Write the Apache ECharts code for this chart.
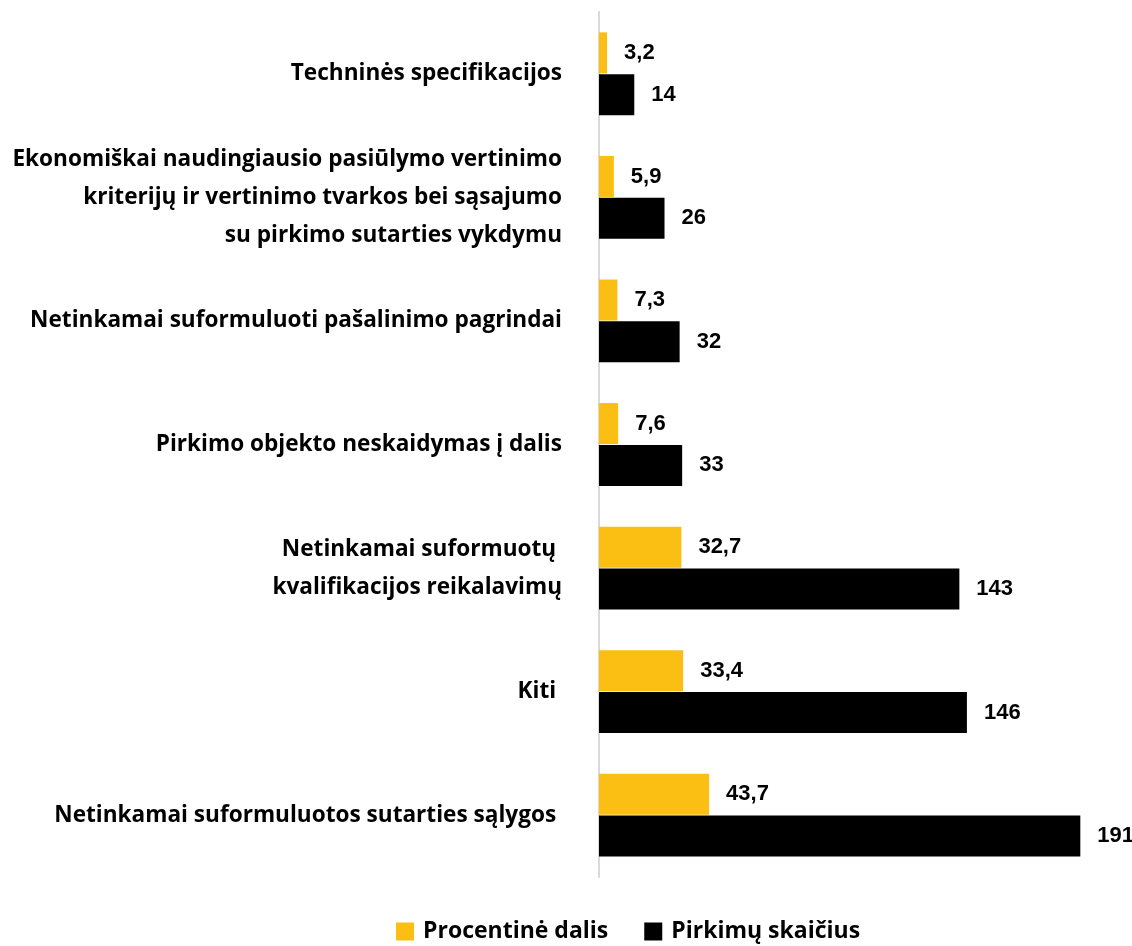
<!DOCTYPE html>
<html>
<head>
<meta charset="utf-8">
<script src="https://cdn.jsdelivr.net/npm/echarts@6/dist/echarts.min.js"></script>
<style>
  html, body { margin: 0; padding: 0; background: #fff; }
  #chart { width: 1132px; height: 946px; }
</style>
</head>
<body>
<div id="chart"></div>
<script>
const categories = [
  'Techninės specifikacijos',
  'Ekonomiškai naudingiausio pasiūlymo vertinimo\nkriterijų ir vertinimo tvarkos bei sąsajumo\nsu pirkimo sutarties vykdymu',
  'Netinkamai suformuluoti pašalinimo pagrindai',
  'Pirkimo objekto neskaidymas į dalis',
  'Netinkamai suformuotų \nkvalifikacijos reikalavimų',
  'Kiti ',
  'Netinkamai suformuluotos sutarties sąlygos '
]
const percentShare = [3.2, 5.9, 7.3, 7.6, 32.7, 33.4, 43.7]
const purchaseCount = [14, 26, 32, 33, 143, 146, 191]

const chart = echarts.init(document.getElementById('chart'))

const labelStyle = {
  show: true,
  position: 'right',
  distance: 17,
  color: '#000',
  fontFamily: 'Liberation Sans, Arial, sans-serif',
  fontWeight: 'bold',
  fontSize: 22,
  formatter: (p) => String(p.value).replace('.', ',')
}

chart.setOption({
  backgroundColor: '#fff',
  animation: false,
  grid: { left: 599, right: 29, top: 12, height: 865 },
  legend: {
    top: 915,
    left: 391,
    itemWidth: 18,
    itemHeight: 18,
    itemGap: 36,
    icon: 'rect',
    textStyle: { fontFamily: 'Open Sans', fontWeight: 'bold', fontSize: 23, color: '#000', padding: [0, 0, 0, 4] },
    data: ['Procentinė dalis', 'Pirkimų skaičius']
  },
  xAxis: {
    type: 'value',
    min: 0,
    max: 200,
    show: false
  },
  yAxis: {
    type: 'category',
    inverse: true,
    data: categories,
    axisLine: { show: true, lineStyle: { color: '#d9d9d9', width: 2 } },
    axisTick: { show: false },
    axisLabel: {
      margin: 37,
      color: '#000',
      fontFamily: 'Open Sans',
      fontWeight: 'bold',
      fontSize: 22.6,
      lineHeight: 38,
      align: 'right'
    }
  },
  series: [
    {
      name: 'Procentinė dalis',
      type: 'bar',
      data: percentShare,
      barWidth: 41,
      barGap: '2%',
      itemStyle: { color: '#FBBF14' },
      label: labelStyle
    },
    {
      name: 'Pirkimų skaičius',
      type: 'bar',
      data: purchaseCount,
      barWidth: 41,
      itemStyle: { color: '#000' },
      label: labelStyle
    }
  ]
})
</script>
</body>
</html>
